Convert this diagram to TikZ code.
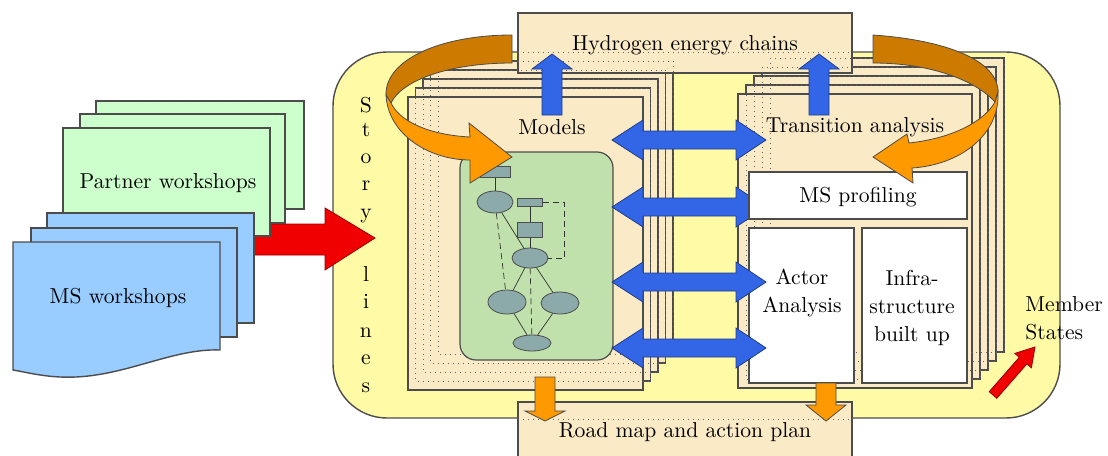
\documentclass[tikz,border=0pt]{standalone}
\usetikzlibrary{shapes.geometric}
\definecolor{bgyellow}{RGB}{255,250,165}
\definecolor{beige}{RGB}{250,234,198}
\definecolor{wsgreen}{RGB}{204,255,204}
\definecolor{wsblue}{RGB}{153,204,255}
\definecolor{arrblue}{RGB}{51,102,230}
\definecolor{orangeL}{RGB}{255,153,0}
\definecolor{orangeD}{RGB}{204,122,0}
\definecolor{modelgreen}{RGB}{192,224,172}
\definecolor{ellgrey}{RGB}{140,170,170}
\definecolor{redarrow}{RGB}{240,0,0}
\newcommand\bluedbl[1]{\filldraw[barrow] (612,#1) -- (643,#1-20) -- (643,#1-9) -- (736,#1-9) -- (736,#1-20) -- (766,#1) -- (736,#1+20) -- (736,#1+9) -- (643,#1+9) -- (643,#1+20) -- cycle;}
\newcommand\blueup[1]{\filldraw[barrow] (#1-10,115) -- (#1-10,69) -- (#1-20,69) -- (#1,54) -- (#1+20,69) -- (#1+10,69) -- (#1+10,115) -- cycle;}
\newcommand\orangedown[3]{\filldraw[oarrow] (#1-10,#2) -- (#1+10,#2) -- (#1+10,#3) -- (#1+20,#3) -- (#1,421) -- (#1-20,#3) -- (#1-10,#3) -- cycle;}
\begin{document}
\begin{tikzpicture}[x=0.5pt,y=-0.5pt,
  lbl/.style={font=\rmfamily\fontsize{10.8}{13.8}\selectfont, inner sep=0pt, text=black},
  frame/.style={fill=beige, draw=black!70, line width=0.7pt},
  hidden/.style={draw=black!60, dotted, line width=0.5pt},
  wbox/.style={rectangle, fill=white, draw=black!70, line width=0.7pt, inner sep=0pt},
  hbox/.style={rectangle, fill=beige, draw=black!70, line width=0.7pt, inner sep=0pt},
  barrow/.style={fill=arrblue, draw=arrblue!60!black, line width=0.4pt},
  oarrow/.style={fill=orangeL, draw=black!70, line width=0.4pt},
  darrow/.style={fill=orangeD, draw=black!70, line width=0.4pt},
  ell/.style={ellipse, fill=ellgrey, draw=black!70, line width=0.4pt, inner sep=0pt},
  fbox/.style={rectangle, fill=ellgrey, draw=black!70, line width=0.4pt, inner sep=0pt},
  fl/.style={draw=black!80, line width=0.35pt},
]
\useasboundingbox (0,0) rectangle (1108,455);

% big yellow area
\draw[fill=bgyellow, draw=black!70, line width=0.7pt, rounded corners=27pt] (333,52) rectangle (1060,418);

% red arrow from workshops
\filldraw[fill=redarrow, draw=red!60!black, line width=0.4pt] (254,224) -- (325,224) -- (325,208) -- (375,238) -- (325,270) -- (325,255) -- (254,255) -- cycle;

% workshops
\draw[fill=wsgreen, draw=black!70, line width=0.7pt] (96,101) rectangle (304,209);
\draw[fill=wsgreen, draw=black!70, line width=0.7pt] (80,114) rectangle (285,223);
\draw[fill=wsgreen, draw=black!70, line width=0.7pt] (63,128) rectangle (270,236);
\draw[fill=wsblue, draw=black!70, line width=0.7pt] (47,213) rectangle (254,323);
\draw[fill=wsblue, draw=black!70, line width=0.7pt] (31,228) rectangle (237,337);
\draw[fill=wsblue, draw=black!70, line width=0.7pt] (13,242) -- (220,242) -- (220,350)
  .. controls (170,348) and (120,380) .. (60,377) .. controls (40,376) and (25,372) .. (13,370) -- cycle;
\node[lbl] (partner) at (168,183) {Partner workshops};
\node[lbl] (msws) at (118,298) {MS workshops};

% models stack
\foreach \k in {4,3,2,1} \draw[frame] ({408+7.5*\k},{97-9*\k}) rectangle ({643+7.5*\k},{390-9*\k});
\draw[frame] (408,97) rectangle (643,390);
% transition stack
\foreach \k in {4,3,2,1} \draw[frame] ({738+8*\k},{94-9*\k}) rectangle ({972+8*\k},{388-9*\k});
\draw[frame] (738,94) rectangle (972,388);

% hydrogen box and road map box
\node[hbox, minimum width=167pt, minimum height=30pt] (h2box) at (685,43) {};
\node[hbox, minimum width=167pt, minimum height=30pt] (roadbox) at (685,432) {};
\draw[hidden] (518,52) -- (852,52);
\draw[hidden] (518,419) -- (852,419);

% hidden edges of stacked frames
\foreach \k in {1,2,3,4} \draw[hidden] ({408+7.5*\k},{97-9*\k}) rectangle ({643+7.5*\k},{390-9*\k});
\foreach \k in {1,2,3,4} \draw[hidden] ({738+8*\k},{94-9*\k}) rectangle ({972+8*\k},{388-9*\k});

% model area
\draw[fill=modelgreen, draw=black!70, line width=0.6pt, rounded corners=8pt] (460,152) rectangle (613,360);
\node[fbox, minimum width=15pt, minimum height=5.5pt] (r0) at (495,172) {};
\node[ell, minimum width=18pt, minimum height=11pt] (e1) at (495,202) {};
\node[fbox, minimum width=12.5pt, minimum height=4pt] (r2) at (530,202) {};
\node[fbox, minimum width=12.5pt, minimum height=7.5pt] (r3) at (530,230) {};
\node[ell, minimum width=18pt, minimum height=10pt] (e4) at (530,258) {};
\node[ell, minimum width=19pt, minimum height=12pt] (e5) at (507,302) {};
\node[ell, minimum width=19pt, minimum height=11pt] (e6) at (560,303) {};
\node[ell, minimum width=19pt, minimum height=8pt] (e7) at (532,343) {};
\draw[fl] (r0) -- (e1);
\draw[fl] (e1) -- (e4);
\draw[fl] (r2) -- (r3);
\draw[fl] (r3) -- (e4);
\draw[fl] (e4) -- (e5);
\draw[fl] (e4) -- (e6);
\draw[fl] (e5) -- (e7);
\draw[fl] (e6) -- (e7);
\draw[fl, densely dashed] (e1) -- (e5);
\draw[fl, densely dashed] (e4) -- (e7);
\draw[fl, densely dashed] (r2.east) -| ([xshift=8pt]e4.east) -- (e4.east);

% blue arrows
\blueup{552}
\blueup{819}
\bluedbl{207}
% white boxes
\node[wbox, minimum width=109pt, minimum height=23.5pt] (prof) at (858,195.5) {};
\node[wbox, minimum width=52.5pt, minimum height=77.5pt] (actor) at (801.5,305.5) {};
\node[wbox, minimum width=52.5pt, minimum height=77.5pt] (infra) at (914.5,305.5) {};
\bluedbl{140}
\bluedbl{282}
\bluedbl{348}

% orange arrows down
\orangedown{545}{377}{411}
\orangedown{826}{383}{405}

% text partly covered by the curved arrow
\node[lbl] (trans) at (855,127) {Transition analysis};

% curved orange arrows
\filldraw[darrow] (512,35) .. controls (440,35) and (385,60) .. (386,95) -- (391,103) .. controls (402,80) and (450,63) .. (512,63) -- cycle;
\filldraw[oarrow] (386,95) .. controls (388,135) and (430,160) .. (470,160) -- (470,183) -- (512,157) -- (469,123) -- (470,137) .. controls (430,135) and (400,122) .. (391,103) -- cycle;
\filldraw[darrow] (873,35) .. controls (945,40) and (998,60) .. (998,92) -- (995,102) .. controls (975,80) and (930,63) .. (873,63) -- cycle;
\filldraw[oarrow] (998,92) .. controls (1000,135) and (960,165) .. (912,168) -- (913,183) -- (873,157) -- (907,134) -- (909,143) .. controls (955,138) and (985,120) .. (995,102) -- cycle;

% member states arrow
\filldraw[fill=redarrow, draw=red!60!black, line width=0.4pt] (989.2,391.7) -- (1019.3,357.3) -- (1014.8,353.4) -- (1035,347) -- (1031.4,367.8) -- (1026.9,363.9) -- (996.8,398.3) -- cycle;

% texts
\node[lbl] (h2txt) at (685,45) {Hydrogen energy chains};
\node[lbl] (roadtxt) at (685,432) {Road map and action plan};
\node[lbl] (models) at (552,127) {Models};
\node[lbl] (proftxt) at (858,197) {MS profiling};
\node[lbl, align=center] (actortxt) at (802,293) {Actor\\Analysis};
\node[lbl, align=center] (infratxt) at (912,308) {Infra-\\structure\\built up};
\node[lbl, align=left, anchor=west] (member) at (1025,318) {Member\\States};
\foreach \c/\yy in {S/112,t/136,o/163,r/190,y/218,l/281,i/308,n/337,e/364,s/392}
  \node[lbl, anchor=base] at (366,\yy) {\c};
\end{tikzpicture}
\end{document}
